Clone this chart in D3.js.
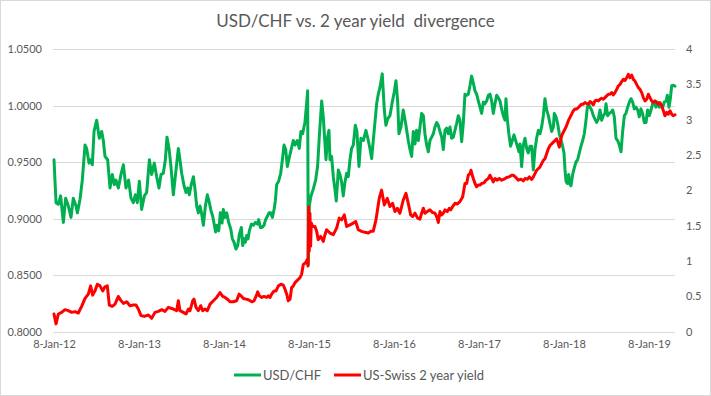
<!DOCTYPE html>
<html><head><meta charset="utf-8">
<script src="https://cdn.jsdelivr.net/npm/d3@7"></script>
<style>body{margin:0;background:#fff}svg{display:block;font-family:Lato,"Open Sans",sans-serif}</style>
</head><body><svg id="c" width="711" height="396"></svg>
<script>
const titleText = "USD/CHF vs. 2 year yield  divergence";
const seriesNames = ["USD/CHF", "US-Swiss 2 year yield"];
const xTickYears = [2012, 2013, 2014, 2015, 2016, 2017, 2018, 2019];
const xTickLabels = ["8-Jan-12","8-Jan-13","8-Jan-14","8-Jan-15","8-Jan-16","8-Jan-17","8-Jan-18","8-Jan-19"];
const leftTicks = [0.80, 0.85, 0.90, 0.95, 1.00, 1.05];
const rightTicks = [0, 0.5, 1, 1.5, 2, 2.5, 3, 3.5, 4];

// [decimal year from 8-Jan-12, USD/CHF]
const usdchf = [
[2012.000,0.952],[2012.024,0.914],[2012.051,0.9125],[2012.078,0.920],[2012.110,0.8965],[2012.137,0.918],[2012.169,0.911],[2012.200,0.901],[2012.227,0.918],[2012.259,0.911],[2012.275,0.905],[2012.306,0.917],[2012.333,0.934],[2012.365,0.965],[2012.384,0.962],[2012.412,0.949],[2012.431,0.952],[2012.451,0.9475],[2012.471,0.977],[2012.502,0.987],[2012.533,0.971],[2012.561,0.977],[2012.580,0.969],[2012.600,0.955],[2012.631,0.952],[2012.659,0.927],[2012.686,0.939],[2012.710,0.930],[2012.729,0.934],[2012.757,0.927],[2012.788,0.939],[2012.816,0.9475],[2012.847,0.927],[2012.878,0.934],[2012.906,0.918],[2012.933,0.914],[2012.957,0.921],[2012.980,0.914],
[2013.004,0.933],[2013.031,0.908],[2013.063,0.920],[2013.090,0.923],[2013.122,0.952],[2013.149,0.939],[2013.180,0.949],[2013.208,0.937],[2013.235,0.927],[2013.259,0.939],[2013.286,0.940],[2013.310,0.952],[2013.329,0.972],[2013.353,0.962],[2013.376,0.946],[2013.404,0.921],[2013.431,0.940],[2013.463,0.962],[2013.482,0.952],[2013.502,0.940],[2013.530,0.929],[2013.553,0.923],[2013.573,0.927],[2013.592,0.921],[2013.612,0.929],[2013.640,0.937],[2013.659,0.926],[2013.679,0.911],[2013.698,0.905],[2013.718,0.911],[2013.738,0.904],[2013.757,0.894],[2013.781,0.911],[2013.804,0.921],[2013.828,0.914],[2013.847,0.907],[2013.867,0.902],[2013.887,0.894],[2013.902,0.888],[2013.918,0.894],[2013.938,0.889],[2013.957,0.905],[2013.977,0.896],[2013.992,0.908],
[2014.012,0.901],[2014.032,0.905],[2014.055,0.8965],[2014.079,0.891],[2014.098,0.882],[2014.118,0.879],[2014.141,0.873],[2014.161,0.876],[2014.181,0.886],[2014.204,0.892],[2014.220,0.876],[2014.236,0.882],[2014.251,0.879],[2014.267,0.885],[2014.283,0.882],[2014.298,0.889],[2014.322,0.895],[2014.345,0.894],[2014.369,0.8965],[2014.393,0.895],[2014.408,0.899],[2014.428,0.892],[2014.447,0.892],[2014.471,0.894],[2014.490,0.899],[2014.510,0.902],[2014.530,0.905],[2014.549,0.905],[2014.569,0.901],[2014.589,0.908],[2014.604,0.9155],[2014.620,0.930],[2014.643,0.933],[2014.667,0.940],[2014.687,0.952],[2014.706,0.965],[2014.726,0.961],[2014.746,0.946],[2014.765,0.953],[2014.815,0.969],[2014.835,0.965],[2014.862,0.969],[2014.886,0.962],[2014.905,0.977],[2014.925,0.975],[2014.952,0.985],[2014.972,1.0015],[2014.984,1.013],[2014.992,0.859],
[2015.003,0.911],[2015.023,0.920],[2015.050,0.926],[2015.078,0.934],[2015.101,0.946],[2015.121,0.972],[2015.149,1.004],[2015.168,0.990],[2015.188,0.966],[2015.200,0.952],[2015.219,0.972],[2015.235,0.978],[2015.247,0.952],[2015.266,0.955],[2015.286,0.937],[2015.305,0.926],[2015.321,0.9155],[2015.345,0.943],[2015.364,0.939],[2015.384,0.932],[2015.403,0.920],[2015.423,0.932],[2015.443,0.940],[2015.462,0.937],[2015.482,0.952],[2015.501,0.962],[2015.521,0.965],[2015.545,0.9825],[2015.564,0.977],[2015.588,0.946],[2015.611,0.971],[2015.639,0.969],[2015.670,0.978],[2015.698,0.969],[2015.717,0.962],[2015.737,0.953],[2015.756,0.969],[2015.776,0.985],[2015.796,1.0015],[2015.815,1.010],[2015.835,1.016],[2015.862,1.028],[2015.886,0.996],[2015.905,0.9825],[2015.925,0.988],[2015.952,0.991],[2015.980,1.003],
[2016.003,1.012],[2016.023,1.022],[2016.043,1.004],[2016.058,0.975],[2016.082,0.981],[2016.109,0.996],[2016.137,0.984],[2016.168,0.969],[2016.188,0.961],[2016.208,0.955],[2016.227,0.977],[2016.247,0.966],[2016.266,0.978],[2016.286,0.969],[2016.306,0.981],[2016.325,0.993],[2016.345,0.991],[2016.364,0.975],[2016.384,0.965],[2016.404,0.959],[2016.423,0.969],[2016.443,0.972],[2016.463,0.975],[2016.482,0.981],[2016.502,0.985],[2016.521,0.9825],[2016.541,0.977],[2016.561,0.972],[2016.580,0.961],[2016.600,0.978],[2016.619,0.980],[2016.639,0.975],[2016.659,0.981],[2016.678,0.971],[2016.698,0.972],[2016.717,0.978],[2016.737,0.984],[2016.757,0.991],[2016.776,0.987],[2016.796,0.968],[2016.815,0.984],[2016.835,1.010],[2016.855,1.009],[2016.874,1.010],[2016.894,1.0175],[2016.913,1.026],[2016.933,1.020],[2016.953,1.013],[2016.972,1.010],[2016.992,1.004],
[2017.012,0.9985],[2017.031,0.993],[2017.051,1.003],[2017.070,1.0015],[2017.090,1.004],[2017.110,1.009],[2017.129,1.010],[2017.149,1.004],[2017.168,0.993],[2017.188,1.0015],[2017.208,1.009],[2017.227,1.007],[2017.247,1.004],[2017.266,0.997],[2017.286,0.991],[2017.306,0.987],[2017.317,1.006],[2017.333,0.988],[2017.353,0.974],[2017.372,0.964],[2017.392,0.969],[2017.412,0.974],[2017.431,0.969],[2017.451,0.964],[2017.470,0.959],[2017.482,0.966],[2017.502,0.946],[2017.521,0.965],[2017.541,0.971],[2017.561,0.962],[2017.580,0.958],[2017.600,0.964],[2017.620,0.964],[2017.639,0.943],[2017.659,0.961],[2017.678,0.971],[2017.698,0.978],[2017.718,0.975],[2017.737,0.981],[2017.757,0.991],[2017.776,1.006],[2017.796,0.996],[2017.816,0.991],[2017.835,0.984],[2017.855,0.977],[2017.875,0.981],[2017.886,0.993],[2017.906,0.990],[2017.925,0.984],[2017.945,0.975],[2017.965,0.969],[2017.984,0.964],
[2018.000,0.958],[2018.012,0.943],[2018.024,0.933],[2018.039,0.931],[2018.055,0.939],[2018.071,0.930],[2018.082,0.929],[2018.102,0.939],[2018.122,0.945],[2018.141,0.950],[2018.161,0.952],[2018.180,0.958],[2018.200,0.964],[2018.220,0.969],[2018.239,0.975],[2018.259,0.987],[2018.275,0.9985],[2018.290,1.0015],[2018.306,0.9985],[2018.325,0.996],[2018.345,0.991],[2018.365,0.988],[2018.384,0.985],[2018.404,0.988],[2018.424,0.996],[2018.443,0.987],[2018.463,0.991],[2018.482,0.993],[2018.494,1.0015],[2018.514,0.991],[2018.533,0.993],[2018.553,0.994],[2018.573,0.996],[2018.592,0.990],[2018.612,0.971],[2018.631,0.969],[2018.651,0.965],[2018.671,0.959],[2018.690,0.977],[2018.710,0.991],[2018.729,0.993],[2018.749,0.9985],[2018.769,1.003],[2018.788,1.006],[2018.808,1.003],[2018.827,0.997],[2018.847,0.9985],[2018.867,0.996],[2018.886,0.990],[2018.906,0.997],[2018.925,0.993],[2018.945,0.985],[2018.965,0.985],[2018.984,0.996],
[2019.004,0.991],[2019.024,0.996],[2019.043,1.0015],[2019.063,1.003],[2019.082,0.9985],[2019.102,1.003],[2019.122,0.9985],[2019.141,1.000],[2019.161,0.9985],[2019.180,1.003],[2019.200,1.004],[2019.216,1.009],[2019.235,0.9985],[2019.251,1.006],[2019.267,1.0175],[2019.286,1.018],[2019.306,1.017]
];

// [decimal year from 8-Jan-12, US-Swiss 2 year yield spread]
const spread = [
[2012.000,0.248],[2012.024,0.108],[2012.051,0.248],[2012.090,0.271],[2012.129,0.309],[2012.169,0.295],[2012.208,0.271],[2012.247,0.281],[2012.286,0.262],[2012.325,0.356],[2012.365,0.468],[2012.404,0.529],[2012.431,0.646],[2012.455,0.515],[2012.482,0.575],[2012.510,0.669],[2012.541,0.646],[2012.573,0.575],[2012.600,0.632],[2012.627,0.646],[2012.651,0.374],[2012.686,0.356],[2012.718,0.388],[2012.757,0.496],[2012.784,0.444],[2012.816,0.398],[2012.855,0.421],[2012.894,0.365],[2012.933,0.374],[2012.965,0.374],[2012.992,0.318],
[2013.024,0.225],[2013.063,0.215],[2013.110,0.234],[2013.149,0.187],[2013.188,0.271],[2013.227,0.285],[2013.267,0.309],[2013.306,0.285],[2013.345,0.342],[2013.404,0.318],[2013.443,0.295],[2013.463,0.435],[2013.482,0.295],[2013.522,0.271],[2013.553,0.248],[2013.581,0.318],[2013.600,0.295],[2013.632,0.435],[2013.647,0.458],[2013.671,0.342],[2013.698,0.295],[2013.726,0.365],[2013.749,0.295],[2013.777,0.318],[2013.804,0.295],[2013.836,0.388],[2013.875,0.435],[2013.914,0.482],[2013.953,0.552],[2013.985,0.496],
[2014.012,0.482],[2014.040,0.458],[2014.071,0.421],[2014.110,0.421],[2014.149,0.435],[2014.177,0.529],[2014.200,0.505],[2014.228,0.468],[2014.259,0.458],[2014.287,0.449],[2014.326,0.421],[2014.353,0.435],[2014.377,0.496],[2014.396,0.561],[2014.416,0.505],[2014.443,0.482],[2014.471,0.496],[2014.502,0.482],[2014.522,0.505],[2014.541,0.482],[2014.561,0.529],[2014.589,0.575],[2014.612,0.575],[2014.640,0.646],[2014.671,0.669],[2014.698,0.655],[2014.718,0.599],[2014.738,0.529],[2014.757,0.435],[2014.777,0.458],[2014.796,0.622],[2014.816,0.646],[2014.836,0.692],[2014.855,0.716],[2014.875,0.739],[2014.894,0.763],[2014.913,0.809],[2014.933,0.950],[2014.960,0.973],[2014.980,1.020],[2014.988,0.926],[2014.996,1.768],
[2015.003,1.137],[2015.011,1.675],[2015.019,1.207],[2015.027,1.535],[2015.043,1.488],[2015.070,1.488],[2015.090,1.418],[2015.109,1.301],[2015.137,1.347],[2015.168,1.277],[2015.188,1.371],[2015.207,1.441],[2015.247,1.394],[2015.286,1.371],[2015.325,1.464],[2015.356,1.605],[2015.384,1.581],[2015.415,1.651],[2015.443,1.488],[2015.482,1.511],[2015.521,1.535],[2015.549,1.558],[2015.580,1.441],[2015.619,1.418],[2015.658,1.404],[2015.698,1.394],[2015.729,1.418],[2015.756,1.420],[2015.788,1.580],[2015.827,1.890],[2015.854,2.002],[2015.886,1.792],[2015.921,1.885],[2015.952,1.768],[2015.984,1.815],
[2016.011,1.698],[2016.039,1.745],[2016.070,1.675],[2016.109,1.862],[2016.141,1.956],[2016.168,1.815],[2016.196,1.651],[2016.219,1.628],[2016.247,1.675],[2016.278,1.605],[2016.305,1.591],[2016.325,1.675],[2016.345,1.745],[2016.364,1.675],[2016.392,1.698],[2016.423,1.722],[2016.455,1.684],[2016.482,1.675],[2016.502,1.628],[2016.521,1.544],[2016.541,1.698],[2016.561,1.651],[2016.580,1.675],[2016.600,1.722],[2016.627,1.698],[2016.651,1.745],[2016.666,1.722],[2016.690,1.768],[2016.717,1.815],[2016.745,1.806],[2016.776,1.839],[2016.808,1.909],[2016.835,2.096],[2016.855,2.096],[2016.874,2.213],[2016.894,2.236],[2016.906,2.283],[2016.921,2.213],[2016.933,2.166],[2016.953,2.096],[2016.972,2.049],[2016.992,2.073],
[2017.012,2.073],[2017.031,2.096],[2017.059,2.105],[2017.082,2.143],[2017.110,2.166],[2017.129,2.213],[2017.149,2.166],[2017.168,2.119],[2017.188,2.166],[2017.215,2.143],[2017.239,2.166],[2017.266,2.143],[2017.294,2.157],[2017.325,2.180],[2017.353,2.189],[2017.384,2.213],[2017.404,2.213],[2017.435,2.180],[2017.463,2.143],[2017.494,2.157],[2017.521,2.133],[2017.541,2.166],[2017.568,2.157],[2017.592,2.189],[2017.620,2.152],[2017.639,2.189],[2017.659,2.236],[2017.678,2.283],[2017.698,2.306],[2017.718,2.330],[2017.737,2.377],[2017.757,2.423],[2017.776,2.447],[2017.796,2.517],[2017.816,2.587],[2017.835,2.634],[2017.855,2.657],[2017.875,2.681],[2017.894,2.704],[2017.914,2.727],[2017.933,2.657],[2017.945,2.611],[2017.961,2.704],[2017.973,2.774],[2017.992,2.821],
[2018.012,2.868],[2018.031,2.915],[2018.051,2.985],[2018.071,3.032],[2018.090,3.078],[2018.110,3.125],[2018.129,3.149],[2018.149,3.149],[2018.169,3.172],[2018.188,3.195],[2018.208,3.219],[2018.227,3.219],[2018.247,3.242],[2018.267,3.228],[2018.286,3.219],[2018.306,3.256],[2018.325,3.242],[2018.345,3.209],[2018.365,3.265],[2018.384,3.275],[2018.404,3.265],[2018.424,3.289],[2018.443,3.303],[2018.463,3.289],[2018.482,3.312],[2018.502,3.336],[2018.522,3.359],[2018.541,3.359],[2018.561,3.382],[2018.580,3.350],[2018.600,3.382],[2018.620,3.429],[2018.639,3.476],[2018.659,3.499],[2018.678,3.537],[2018.698,3.570],[2018.718,3.556],[2018.737,3.593],[2018.757,3.640],[2018.776,3.593],[2018.796,3.630],[2018.816,3.570],[2018.835,3.546],[2018.855,3.499],[2018.875,3.453],[2018.894,3.429],[2018.914,3.382],[2018.933,3.312],[2018.953,3.265],[2018.973,3.289],[2018.992,3.359],
[2019.012,3.312],[2019.031,3.265],[2019.051,3.242],[2019.071,3.265],[2019.090,3.242],[2019.110,3.219],[2019.129,3.242],[2019.149,3.195],[2019.169,3.125],[2019.188,3.055],[2019.208,3.102],[2019.227,3.078],[2019.247,3.125],[2019.267,3.078],[2019.286,3.055],[2019.306,3.069]
];

const colors = ["#00B050", "#FF0000"];
const textColor = "#595959";
const gridColor = "#D9D9D9";

const svg = d3.select("#c");
const W = 711, H = 396;
const plot = {left: 54, right: 675, top: 49, bottom: 331.5};

svg.append("rect").attr("x",0.5).attr("y",0.5).attr("width",W-1).attr("height",H-1)
  .attr("fill","#fff").attr("stroke",gridColor);

const x = d3.scaleLinear().domain([2012, d3.max(usdchf, d => d[0])]).range([plot.left, plot.right]);
const yL = d3.scaleLinear().domain([0.80, 1.05]).range([plot.bottom, plot.top]);
const yR = d3.scaleLinear().domain([0, 4]).range([plot.bottom, plot.top]);

// gridlines
svg.append("g").selectAll("line").data(leftTicks).join("line")
  .attr("x1", plot.left - 1).attr("x2", plot.right)
  .attr("y1", d => Math.round(yL(d)) + 0.5).attr("y2", d => Math.round(yL(d)) + 0.5)
  .attr("stroke", gridColor).attr("stroke-width", 1);

// left axis
const gL = svg.append("g").attr("transform", `translate(${plot.left - 12},0)`)
  .call(d3.axisLeft(yL).tickValues(leftTicks).tickFormat(d3.format(".4f")).tickSize(0).tickPadding(0));
gL.select(".domain").remove();
gL.selectAll("text").attr("fill", textColor).style("font-size","11px").style("font-family","Lato, sans-serif");

// right axis
const gR = svg.append("g").attr("transform", `translate(${plot.right + 11},0)`)
  .call(d3.axisRight(yR).tickValues(rightTicks).tickFormat(d => String(d)).tickSize(0).tickPadding(0));
gR.select(".domain").remove();
gR.selectAll("text").attr("fill", textColor).style("font-size","11px").style("font-family","Lato, sans-serif");

// bottom axis labels
const gB = svg.append("g").attr("transform", `translate(0,${plot.bottom + 9})`)
  .call(d3.axisBottom(x).tickValues(xTickYears).tickFormat((d,i) => xTickLabels[i]).tickSize(0).tickPadding(0));
gB.select(".domain").remove();
gB.selectAll("text").attr("fill", textColor).style("font-size","11px").style("font-family","Lato, sans-serif");

// lines
const lineL = d3.line().x(d => x(d[0])).y(d => yL(d[1]));
const lineR = d3.line().x(d => x(d[0])).y(d => yR(d[1]));
svg.append("path").datum(usdchf).attr("d", lineL).attr("fill","none")
  .attr("stroke", colors[0]).attr("stroke-width", 3).attr("stroke-linejoin","round").attr("stroke-linecap","round");
svg.append("path").datum(spread).attr("d", lineR).attr("fill","none")
  .attr("stroke", colors[1]).attr("stroke-width", 3).attr("stroke-linejoin","round").attr("stroke-linecap","round");

// title
svg.append("text").attr("x", W/2).attr("y", 27).attr("text-anchor","middle")
  .attr("fill", textColor).style("font-size","17px").style("white-space","pre")
  .text(titleText);

// legend
const legX = [234, 334];
const lg = svg.append("g").selectAll("g").data(seriesNames).join("g")
  .attr("transform", (d,i) => `translate(${legX[i]},375)`);
lg.append("line").attr("x1",0).attr("x2",27).attr("y1",0).attr("y2",0)
  .attr("stroke", (d,i) => colors[i]).attr("stroke-width",3);
lg.append("text").attr("x",29).attr("y",4.5).attr("fill",textColor)
  .style("font-size","13px").text(d => d);
</script></body></html>
